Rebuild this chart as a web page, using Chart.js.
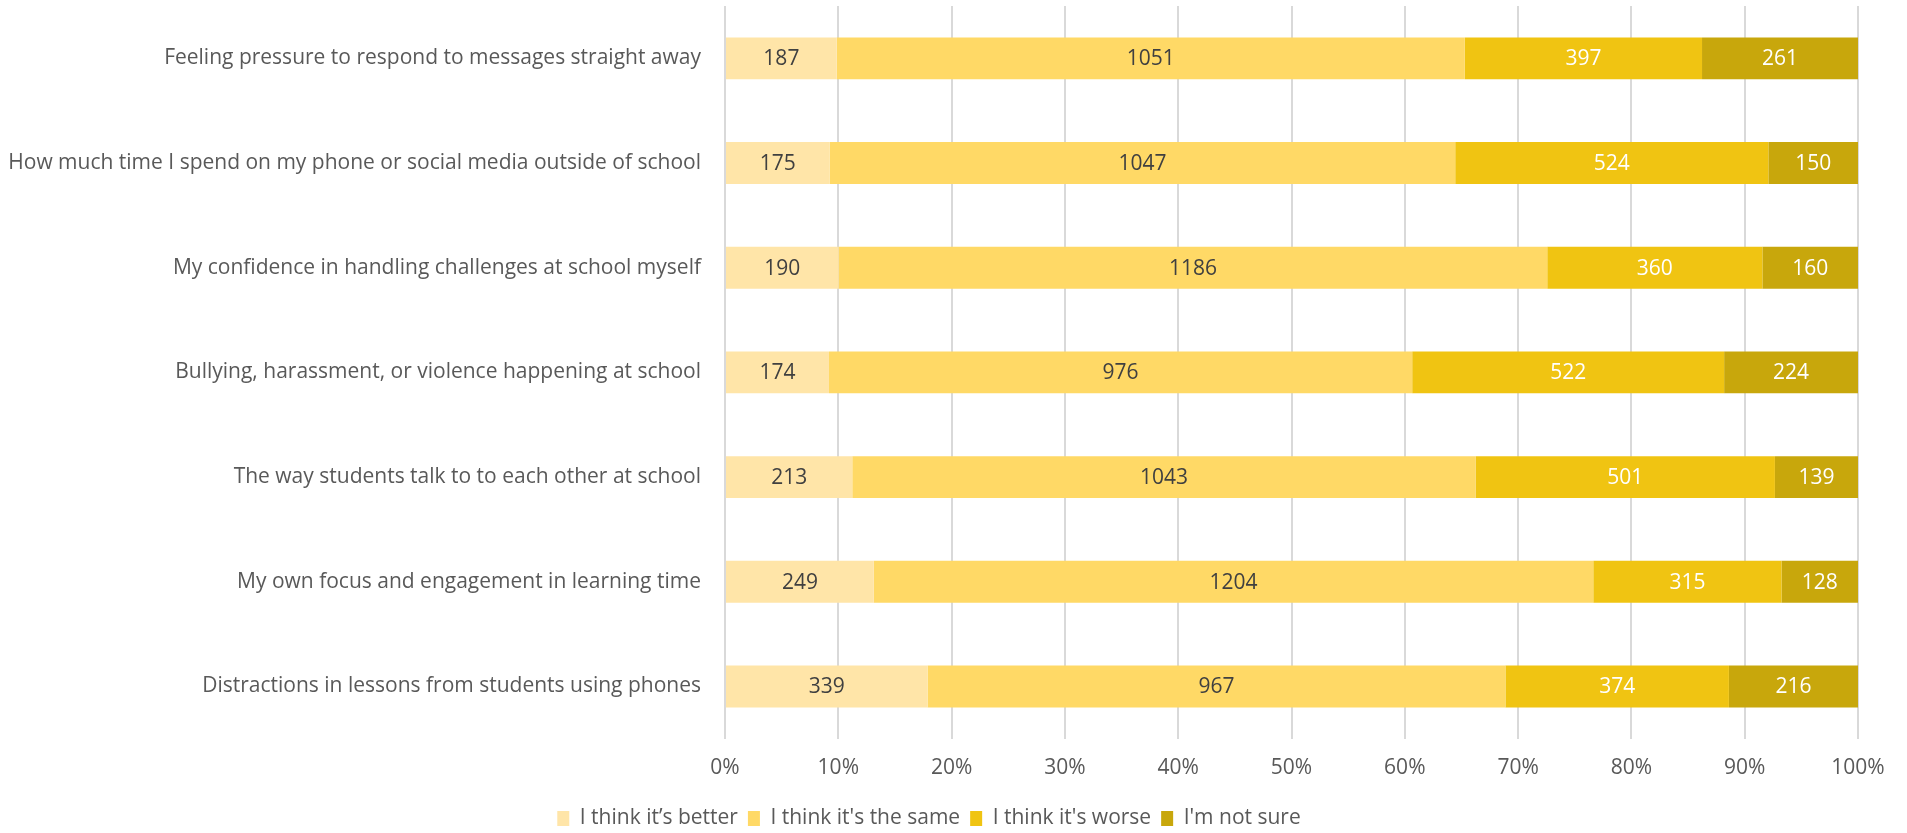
<!DOCTYPE html>
<html>
<head>
<meta charset="utf-8">
<script src="https://cdn.jsdelivr.net/npm/chart.js@4.4.1/dist/chart.umd.min.js"></script>
<style>
  html, body { margin: 0; padding: 0; background: #fff; }
  #wrap { width: 1907px; height: 833px; position: relative; }
</style>
</head>
<body>
<div id="wrap"><canvas id="chart"></canvas></div>
<script>
// survey answers, one row per statement (top to bottom)
const categories = [
  'Feeling pressure to respond to messages straight away',
  'How much time I spend on my phone or social media outside of school',
  'My confidence in handling challenges at school myself',
  'Bullying, harassment, or violence happening at school',
  'The way students talk to to each other at school',
  'My own focus and engagement in learning time',
  'Distractions in lessons from students using phones'
];
const seriesNames = ['I think it\u2019s better', "I think it's the same", "I think it's worse", "I'm not sure"];
const better  = [187, 175, 190, 174, 213, 249, 339];
const same    = [1051, 1047, 1186, 976, 1043, 1204, 967];
const worse   = [397, 524, 360, 522, 501, 315, 374];
const notSure = [261, 150, 160, 224, 139, 128, 216];
const xTicks = [0, 10, 20, 30, 40, 50, 60, 70, 80, 90, 100];

const colors = ['#FFE5A8', '#FFD966', '#F0C412', '#C8A70C'];
const labelColors = ['#404040', '#404040', '#ffffff', '#ffffff'];
const FONT = "'Open Sans', sans-serif";
const SIZE = 21;

const counts = [better, same, worse, notSure];
const totals = categories.map((_, i) => counts.reduce((s, arr) => s + arr[i], 0));
const pct = arr => arr.map((v, i) => v / totals[i] * 100);

// draw the raw count in the middle of each segment
const countLabels = {
  id: 'countLabels',
  afterDatasetsDraw(chart) {
    const ctx = chart.ctx;
    ctx.save();
    ctx.font = SIZE + 'px ' + FONT;
    ctx.textAlign = 'center';
    ctx.textBaseline = 'middle';
    chart.data.datasets.forEach((ds, di) => {
      const meta = chart.getDatasetMeta(di);
      meta.data.forEach((bar, i) => {
        const p = bar.getProps(['x', 'y', 'base'], true);
        ctx.fillStyle = labelColors[di];
        ctx.fillText(String(ds.counts[i]), (p.x + p.base) / 2, p.y + 1);
      });
    });
    ctx.restore();
  }
};

new Chart(document.getElementById('chart'), {
  type: 'bar',
  data: {
    labels: categories,
    datasets: counts.map((arr, i) => ({
      label: seriesNames[i],
      data: pct(arr),
      counts: arr,
      backgroundColor: colors[i],
      borderWidth: 0,
      barPercentage: 0.4,
      categoryPercentage: 1
    }))
  },
  options: {
    indexAxis: 'y',
    responsive: true,
    maintainAspectRatio: false,
    animation: false,
    layout: { padding: { top: 6, right: 49, left: 0, bottom: -6 } },
    plugins: {
      legend: {
        position: 'bottom',
        labels: {
          font: { family: FONT, size: SIZE },
          color: '#595959',
          boxWidth: 12,
          boxHeight: 15,
          padding: 10
        }
      },
      tooltip: { enabled: false }
    },
    scales: {
      x: {
        stacked: true,
        min: 0,
        max: 100,
        afterBuildTicks: s => { s.ticks = xTicks.map(v => ({ value: v })); },
        ticks: {
          callback: v => v + '%',
          font: { family: FONT, size: SIZE },
          color: '#595959',
          padding: 17
        },
        grid: { color: '#D9D9D9', lineWidth: 2, drawTicks: false },
        border: { display: false }
      },
      y: {
        stacked: true,
        afterFit: s => { s.width = 725; s.paddingTop = 0; s.paddingBottom = 0; },
        ticks: {
          font: { family: FONT, size: SIZE },
          color: '#595959',
          padding: 16
        },
        grid: { display: false },
        border: { display: false }
      }
    }
  },
  plugins: [countLabels]
});
</script>
</body>
</html>
